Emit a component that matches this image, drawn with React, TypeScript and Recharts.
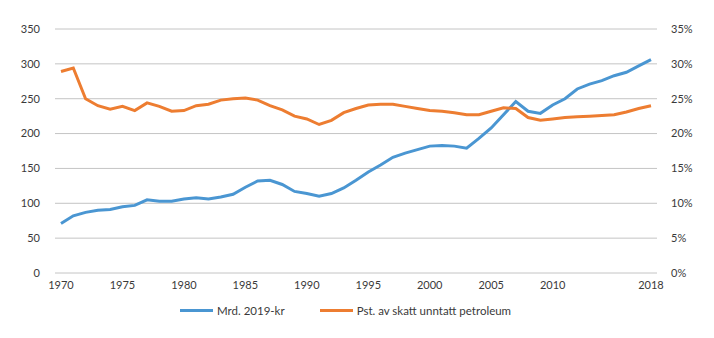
import { LineChart, Line, XAxis, YAxis, CartesianGrid, Legend } from 'recharts';

const years = [
  1970, 1971, 1972, 1973, 1974, 1975, 1976, 1977, 1978, 1979,
  1980, 1981, 1982, 1983, 1984, 1985, 1986, 1987, 1988, 1989,
  1990, 1991, 1992, 1993, 1994, 1995, 1996, 1997, 1998, 1999,
  2000, 2001, 2002, 2003, 2004, 2005, 2006, 2007, 2008, 2009,
  2010, 2011, 2012, 2013, 2014, 2015, 2016, 2017, 2018,
];

// Mrd. 2019-kr (left axis)
const mrdKr = [
  71, 82, 87, 90, 91, 95, 97, 105, 103, 103,
  106, 108, 106, 109, 113, 123, 132, 133, 127, 117,
  114, 110, 114, 122, 133, 145, 155, 166, 172, 177,
  182, 183, 182, 179, 193, 208, 227, 246, 232, 229,
  241, 250, 264, 271, 276, 283, 288, 297, 306,
];

// Pst. av skatt unntatt petroleum (right axis)
const pstSkatt = [
  28.9, 29.4, 25.0, 24.0, 23.5, 23.9, 23.3, 24.4, 23.9, 23.2,
  23.3, 24.0, 24.2, 24.8, 25.0, 25.1, 24.8, 24.0, 23.4, 22.5,
  22.1, 21.3, 21.9, 23.0, 23.6, 24.1, 24.2, 24.2, 23.9, 23.6,
  23.3, 23.2, 23.0, 22.7, 22.7, 23.2, 23.7, 23.6, 22.3, 21.9,
  22.1, 22.3, 22.4, 22.5, 22.6, 22.7, 23.1, 23.6, 24.0,
];

const xTicks = [1970, 1975, 1980, 1985, 1990, 1995, 2000, 2005, 2010, 2018];
const leftTicks = [0, 50, 100, 150, 200, 250, 300, 350];
const rightTicks = [0, 5, 10, 15, 20, 25, 30, 35];

const BLUE = '#4a96d2';
const ORANGE = '#ed7d31';
const TEXT = '#3a3a3a';
const FONT = 'Lato, "Open Sans", sans-serif';

const data = years.map((year, i) => ({ year, mrd: mrdKr[i], pst: pstSkatt[i] }));

function LegendRow({ payload }: any) {
  return (
    <div style={{ display: 'flex', alignItems: 'center', paddingLeft: 180, fontFamily: FONT, fontSize: 11.5, color: TEXT }}>
      {(payload || []).map((p: any, i: number) => (
        <div key={p.value} style={{ display: 'flex', alignItems: 'center', marginRight: i === 0 ? 35 : 0 }}>
          <span style={{ display: 'inline-block', width: 33, height: 3, background: p.color, marginRight: 4 }} />
          <span>{p.value}</span>
        </div>
      ))}
    </div>
  );
}

export default function App() {
  const tick = { fill: TEXT, fontSize: 11, fontFamily: FONT };
  return (
    <div style={{ position: 'absolute', left: 0, top: 0, background: '#fff' }}>
      <LineChart width={714} height={338} data={data} margin={{ top: 29, right: 0, bottom: 35, left: 0 }}>
        <CartesianGrid yAxisId="left" vertical={false} stroke="#c4c4c4" />
        <XAxis
          dataKey="year"
          ticks={xTicks}
          tick={tick}
          tickLine={false}
          axisLine={false}
          interval={0}
          padding={{ left: 6, right: 6 }}
        />
        <YAxis
          yAxisId="left"
          domain={[0, 350]}
          ticks={leftTicks}
          width={55}
          tick={tick}
          tickLine={false}
          axisLine={false}
          tickMargin={9}
        />
        <YAxis
          yAxisId="right"
          orientation="right"
          domain={[0, 35]}
          ticks={rightTicks}
          width={57}
          tick={tick}
          tickLine={false}
          axisLine={false}
          tickMargin={8}
          tickFormatter={(v: number) => `${v}%`}
        />
        <Legend
          layout="horizontal"
          verticalAlign="middle"
          align="center"
          wrapperStyle={{ top: 304, left: 0, width: 714 }}
          content={<LegendRow />}
        />
        <Line
          yAxisId="left"
          type="linear"
          dataKey="mrd"
          name="Mrd. 2019-kr"
          stroke={BLUE}
          strokeWidth={3}
          dot={false}
          isAnimationActive={false}
        />
        <Line
          yAxisId="right"
          type="linear"
          dataKey="pst"
          name="Pst. av skatt unntatt petroleum"
          stroke={ORANGE}
          strokeWidth={3}
          dot={false}
          isAnimationActive={false}
        />
      </LineChart>
    </div>
  );
}
